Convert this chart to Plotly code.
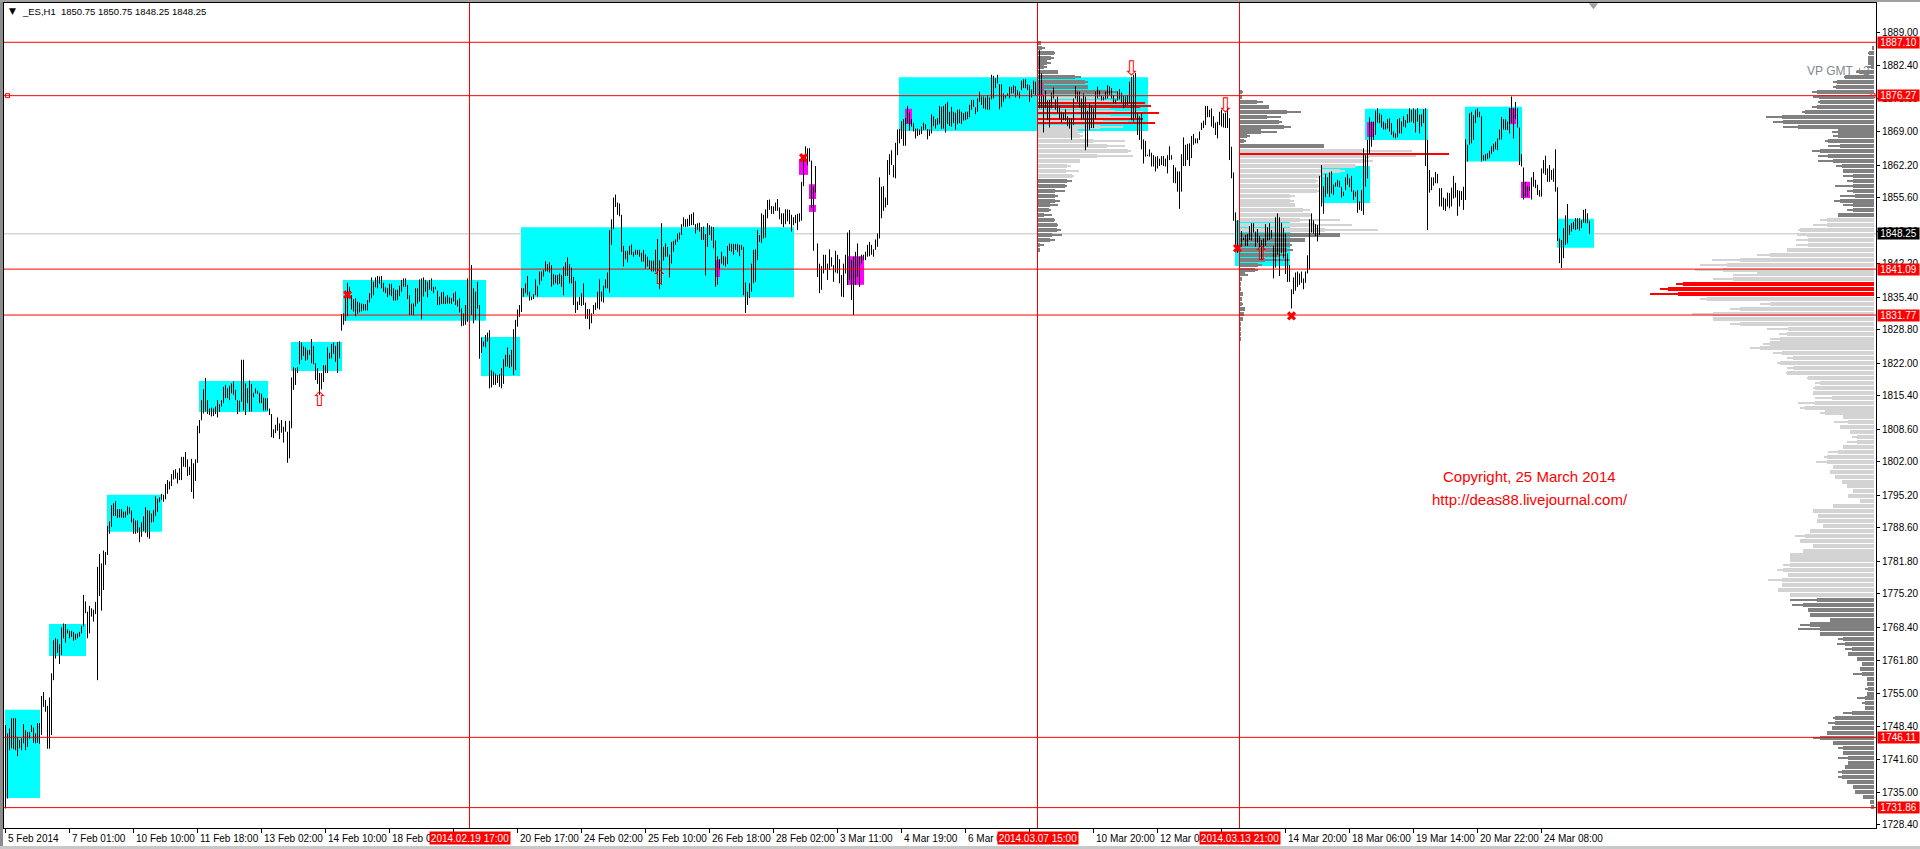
import plotly.graph_objects as go

# ---------- price bars: flat high,low pairs, one pair per hourly bar ----------
hl_a = [1748.6,1731.7, 1746.9,1733.7, 1747.9,1743.5, 1750,1743.9, 1750,1743.7, 1750,1743.5, 1746.2,1742.3, 1745.6,1743.9, 1745.9,1743.5, 1748.8,1744.9,
1747.6,1743.5, 1747.2,1744.2, 1747.2,1745.8, 1748.6,1747.2, 1748.1,1745, 1746.9,1744.9, 1749,1745, 1749,1744.8, 1754.5,1746.6, 1755.3,1752.3,
1753.7,1751.3, 1752.5,1743.8, 1754.2,1743.8, 1759.1,1746.6, 1765.8,1757.7, 1766.2,1762.1, 1766,1763.2, 1765,1761, 1768.4,1762.8, 1769.2,1766.2,
1769.1,1765.3, 1768,1767.2, 1767.7,1766.2, 1767.7,1766.5, 1767.5,1765.7, 1767.1,1765.9, 1767.2,1766.2, 1767.5,1766.5, 1768.7,1767.2, 1775,1768.6,
1773.7,1771.3, 1771.6,1766.2, 1772.8,1767.2, 1772.3,1770.6, 1772,1769.6, 1773.6,1771.1, 1780.7,1757.7, 1783.3,1774.8, 1781.4,1771.8, 1784,1776,
1783.7,1781.1, 1789,1783.1, 1789.9,1787.4, 1793.2,1788.8, 1793.6,1791, 1794,1791, 1792.4,1790.6, 1792.4,1790.7, 1792.4,1790.7, 1791.9,1790.6,
1791.9,1790.7, 1793,1791.2, 1792.8,1791.5, 1792.1,1789.7, 1790.5,1787.4, 1790.1,1787.4, 1790.1,1787.6, 1788.7,1785.7, 1789.7,1786.8, 1790.9,1787.9,
1792.8,1787.6, 1792.2,1786.7, 1792.1,1786.4, 1791.5,1789.7, 1792.2,1789.8, 1795,1791, 1794.5,1791.8, 1794.8,1793.8, 1795.5,1794.3, 1795.3,1793.9,
1797.5,1794.4, 1798.3,1795.5, 1798,1796.4, 1799.5,1797.1, 1800.3,1798.4, 1800.5,1798.6, 1799.8,1797.6, 1800.7,1798.3, 1803,1798.3, 1803,1801,
1804,1800.9, 1802.5,1799.1, 1801,1799.3, 1802.6,1795.9, 1801.7,1794.5, 1802.5,1798.1, 1809.3,1801.8, 1810.5,1807.8, 1814.5,1810.4, 1816.7,1811.8]
hl_b = [1819,1812.2, 1814.5,1811.7, 1812.8,1811.5, 1813,1811.2, 1812.8,1811.3, 1813.2,1811.7, 1814.5,1811, 1813.7,1812.1, 1814.5,1813.2, 1817.2,1813.9,
1817.6,1814.9, 1816.9,1814.9, 1817.4,1814.5, 1817.9,1815.9, 1818.3,1815.6, 1816.6,1814.5, 1814.5,1811.7, 1814.4,1812.2, 1822.7,1814.2, 1822.7,1812.4,
1817.9,1811.5, 1816.9,1813.9, 1818.5,1812.2, 1817.8,1812.2, 1816,1815.1, 1816.9,1815.9, 1816.4,1815.8, 1816,1813.9, 1815.8,1813.9, 1815,1812.4,
1814.9,1812.4, 1814.9,1812.4, 1812.8,1811.5, 1811.7,1807, 1808.6,1806.8, 1809.5,1807.8, 1811,1808.3, 1809.8,1806.6, 1810.5,1807.9, 1809.1,1805.9,
1810.3,1808.1, 1808.1,1801.8, 1810.3,1802.7, 1819.1,1808.8, 1821.2,1816.6, 1821,1817.6, 1821.2,1820, 1826.5,1821.8, 1826.2,1822.7, 1825.4,1823.5,
1825.2,1822.5, 1824.7,1822.7, 1824.7,1823.7, 1826.9,1822, 1825.5,1821.8, 1822,1818.6, 1821,1817.8, 1820,1815.6, 1820,1816.7, 1821.6,1818.2,
1821.6,1820, 1825.2,1820, 1824.1,1822.9, 1825.9,1823, 1826.2,1823.9, 1825.5,1822.3, 1826.3,1820, 1826.4,1823, 1832,1828.6, 1832.1,1829.8,
1835.5,1830.6, 1838.3,1831.5, 1837.5,1835.5, 1835.8,1832.9, 1835,1832.5, 1835.2,1831.5, 1834.5,1832, 1834.3,1832.3, 1834.1,1832.5, 1834,1832.7,
1834,1832.7, 1834.8,1832.7, 1836.2,1834.3, 1839.4,1835.2, 1838.5,1835.8, 1839.4,1837.4, 1839.7,1837.2, 1839.6,1838.1, 1839.7,1837.2, 1838.3,1836.5,
1837.4,1836.2, 1837.2,1835.4, 1838.1,1835.8, 1838.1,1835.6, 1837.2,1834.7, 1836.9,1834.7, 1836.9,1834.8, 1837.7,1835.6, 1838.9,1836.5, 1839.2,1837.5]
hl_c = [1839.2,1837.5, 1837.9,1835, 1835.8,1831.8, 1834.1,1831.8, 1834.1,1831.8, 1837.2,1833.5, 1837.2,1834.1, 1839,1834.5, 1839.2,1830.9, 1839.4,1835.5,
1838.9,1836.5, 1838.5,1835.4, 1838.9,1836.9, 1839.2,1836.7, 1837.5,1836.2, 1837.5,1837, 1836.7,1833.8, 1835.5,1833.8, 1836.4,1834, 1836.5,1834,
1835.5,1834, 1835.8,1834.1, 1835.4,1834.1, 1835.2,1834, 1836.2,1834.5, 1836.5,1833.8, 1834.8,1833.5, 1835.2,1832.3, 1833.1,1829.5, 1832.1,1829.6,
1833.8,1829.8, 1839.2,1830.4, 1838.9,1831.5, 1841.9,1831.8, 1837.2,1830.1, 1836.5,1830.8, 1838.5,1833.1, 1833.8,1822.9, 1827.2,1824.1, 1826.4,1825.4,
1827.7,1825.2, 1828.2,1826.4, 1828.7,1816.9, 1820.6,1817.1, 1820.3,1817.6, 1819.9,1817.6, 1819.6,1818, 1819.8,1817.2, 1821,1816.9, 1822.8,1817.8,
1823.7,1821.3, 1825.2,1821.3, 1823.7,1821, 1824.7,1821.3, 1828.9,1819.6, 1830.8,1820.6, 1832.9,1829.4, 1833.8,1831.4, 1837.2,1832.4, 1837.2,1835.5,
1838.2,1836.2, 1839.7,1835.8, 1836.5,1834.7, 1835.5,1834.8, 1836,1835, 1839,1835.8, 1837.7,1835.5, 1840.6,1837.9, 1840.6,1838.7, 1840.9,1839.6,
1842.7,1840.6, 1842.1,1840.6, 1842.5,1840.4, 1841.9,1837.5, 1840.1,1837.9, 1839.9,1838.2, 1839.9,1837.9, 1840.2,1838.1, 1839.9,1837.5, 1841.6,1835.8,
1842.5,1839.7, 1843.5,1839.7, 1842.1,1838.2, 1841.4,1838.2, 1839.5,1833.8, 1838.7,1832.2, 1834.5,1832.8, 1835.4,1833.8, 1836.2,1833.6, 1838.2,1833.8,
1834.3,1831, 1833,1831, 1833,1828.9, 1832.1,1830.1, 1833.8,1832, 1834.3,1832.8, 1836.5,1833.1, 1839,1832.9, 1836.5,1834.5, 1837.7,1834.3]
hl_d = [1839,1837.2, 1840.4,1837.2, 1849,1836.3, 1851.2,1846, 1855.6,1849.2, 1856.2,1853.7, 1854.6,1852.1, 1854.4,1851.8, 1852.1,1844.6, 1845.8,1841.6,
1844.8,1843.1, 1844.8,1842.5, 1845.8,1844, 1846.1,1844, 1844.6,1843.6, 1845,1844, 1845,1844, 1845,1843.6, 1844.4,1842.6, 1845,1842.6,
1844.1,1841.2, 1843.6,1841.6, 1842.9,1841.1, 1842.8,1840.6, 1842.8,1840.6, 1845,1840.6, 1847.2,1839.9, 1842.9,1837, 1850.4,1837.9, 1845.6,1842.8,
1846.3,1843.6, 1845.6,1843.6, 1844,1839.4, 1846.6,1842.2, 1846.8,1844.6, 1847.1,1846, 1848.3,1846.6, 1848.5,1847.1, 1850.2,1848, 1851.6,1849.7,
1851.2,1849.6, 1851.3,1849.7, 1852.1,1849.8, 1852.3,1850, 1852.6,1850, 1850.2,1848.3, 1850.4,1849, 1850.5,1848.7, 1849.6,1847, 1849.7,1847,
1848.2,1839.8, 1850.4,1845.6, 1850,1848, 1849.7,1846.9, 1849.6,1845.3, 1846.9,1837.5, 1843.7,1837.9, 1843.1,1840.9, 1844.6,1842.2, 1843.7,1841.9,
1843.6,1841.6, 1845.8,1842.1, 1846.3,1844.8, 1846.2,1844.6, 1846.2,1844, 1846.2,1845, 1846.2,1844.6, 1846,1843.7, 1846,1845, 1845.6,1835.8,
1838.4,1832.2, 1836.5,1833.8, 1838.2,1835.2, 1842.2,1836.5, 1845,1838.2, 1845.1,1838.5, 1849,1842.9, 1848,1846.6, 1852.4,1846.4, 1852.1,1847.3,
1853.2,1847.5, 1855.1,1851.4, 1855.2,1853.1, 1853.9,1852.3, 1853.8,1852.3, 1854.6,1852.9, 1855.3,1852.9, 1853.6,1851.2, 1852.4,1850.2, 1852.4,1849.6,
1853.2,1850.2, 1853.2,1850.8, 1853.1,1850.2, 1852.1,1848.7, 1851.6,1850, 1852.1,1850.4, 1852.3,1849, 1852.4,1850.7, 1858.8,1850.9, 1864.2,1857.9]
hl_e = [1866,1862.9, 1865.6,1862.2, 1865.6,1862.9, 1863.1,1853.6, 1857.8,1844.8, 1862,1856.6, 1846.3,1839.5, 1842.2,1836.2, 1841.7,1836.9, 1844,1840.2,
1844,1840.9, 1842.2,1838.9, 1845.1,1840.9, 1843.5,1841.6, 1841.9,1838.5, 1844.8,1840.4, 1844,1840.2, 1843.1,1838.2, 1839.9,1835.5, 1842.2,1835.4,
1844,1840.2, 1848.5,1837.9, 1849,1838.9, 1842.9,1834.8, 1843.6,1831.8, 1844.6,1837.9, 1846.3,1839.5, 1843.6,1837.5, 1844,1842.2, 1844,1842.9,
1844.6,1842.9, 1846,1843.6, 1846.6,1843.7, 1846,1844, 1845.1,1843.6, 1847.1,1845, 1848.3,1845.6, 1859.7,1847.3, 1857.8,1851.4, 1857.9,1852.9,
1855.6,1853.6, 1863.2,1854.1, 1864.4,1860.2, 1865.2,1862.2, 1862.2,1859.7, 1866.7,1859.5, 1869.4,1864.2, 1869.5,1866.6, 1871.1,1867.5, 1871.5,1866.1,
1871.7,1866.1, 1874.2,1870.7, 1873,1869.2, 1871.5,1870, 1870.7,1869, 1869.6,1867.6, 1869.6,1868.1, 1869.4,1868.3, 1870,1868.5, 1870.8,1869.3,
1870.5,1869.4, 1869.5,1867.4, 1869.4,1868.1, 1872.5,1868.6, 1872.1,1870.1, 1871.5,1869.6, 1871.7,1870.3, 1874.2,1870.5, 1874,1869.5, 1874.2,1869.6,
1874.6,1868.8, 1875,1870.5, 1873,1870.1, 1874,1870, 1873,1870.7, 1872.8,1869.4, 1873.4,1870.5, 1873.5,1870.7, 1873,1870.5, 1872.7,1871.2,
1873,1871.3, 1873,1871.5, 1874.4,1871.9, 1875.4,1873.4, 1875.4,1874, 1873.9,1872.5, 1875.7,1873, 1877.1,1875, 1876.1,1874.4, 1876.1,1873.7,
1875.9,1873.5, 1876.4,1873.4, 1875.9,1873.4, 1880.5,1875.5, 1880.3,1875.7, 1879.8,1877.8, 1880.5,1878.8, 1878.6,1873.5, 1878.6,1874, 1876.7,1875]
hl_f = [1876.4,1875.7, 1876.7,1876.2, 1878.1,1875.7, 1878,1876.7, 1878.4,1876.7, 1878.2,1875.9, 1877.4,1876.4, 1877.1,1875.7, 1879.3,1877.4, 1879.6,1877.8,
1879.6,1877.8, 1878.6,1877.4, 1878.4,1875, 1877.5,1875.9, 1879.3,1876.6, 1879.1,1876.4, 1879,1874, 1885.5,1873.7, 1880.8,1873.7, 1876.4,1868.8,
1877.3,1873.7, 1875.3,1871.3, 1875.4,1869.8, 1876.9,1873.7, 1877.9,1875.7, 1875.5,1873.4, 1876.1,1872.8, 1874.2,1871.5, 1873,1870.8, 1872.8,1871.3,
1873.5,1871.2, 1872.1,1870.1, 1871.7,1869.6, 1871.7,1867.3, 1875.7,1870.3, 1878.2,1875.7, 1877.1,1875, 1877.1,1873.9, 1875.7,1871.3, 1876.7,1871.5,
1876.1,1865.2, 1873.2,1865.9, 1874.7,1869.3, 1874.2,1869.7, 1873.7,1869.7, 1877.1,1871.5, 1878.1,1875.7, 1877.3,1876.1, 1876.2,1875.3, 1876.1,1875.3,
1877.1,1875.5, 1878.4,1875.7, 1878.2,1876.4, 1877.8,1875.7, 1876.4,1874.7, 1875.5,1874.6, 1877.1,1875.3, 1877.6,1875.5, 1876.9,1874.9, 1876.2,1873.7,
1876.1,1874, 1876.4,1874.4, 1879.1,1874.7, 1880.1,1871.3, 1880.5,1871, 1880.9,1871.7, 1872.7,1868.3, 1872.1,1867.3, 1872.7,1865.4, 1867.4,1862.5,
1867.1,1863.9, 1864.3,1864, 1865.4,1863.9, 1864.7,1861.9, 1864.2,1861.9, 1863.9,1860.9, 1864,1861.5, 1863.5,1862, 1864,1862.2, 1864,1862,
1863.5,1861.9, 1864.2,1860.5, 1866,1863.2, 1864.2,1863.3, 1862.2,1858.6, 1861.7,1858.5, 1860.9,1856.8, 1860.9,1853.3, 1864.4,1856.8, 1867.8,1862,
1866.3,1862, 1866.5,1863.2, 1866.6,1862, 1868.1,1863.6, 1868.5,1866.3, 1867.6,1866.6, 1867.6,1866.6, 1869,1867.3, 1870.8,1869.3, 1871.2,1869.7]
hl_g = [1874.2,1870.3, 1874.2,1871.9, 1873.4,1871.9, 1873.7,1870, 1872.1,1869.7, 1870.8,1868.3, 1871,1867.6, 1873,1870.3, 1873.4,1870, 1872.7,1869.8,
1872.8,1869.7, 1873.7,1869.7, 1871.7,1863.2, 1865.9,1859.5, 1860.7,1850.9, 1852.6,1845.3, 1851,1844.4, 1849.7,1845.6, 1848.8,1845.6, 1847.5,1847,
1848,1845.8, 1848.2,1845.8, 1849.8,1847, 1850.4,1846.9, 1850.4,1848.5, 1848.7,1845.6, 1849.2,1846.4, 1847.8,1845.3, 1847,1842.9, 1847.3,1845.3,
1850.2,1845.8, 1849.6,1846.9, 1850.4,1847, 1849,1847.3, 1845.8,1839.2, 1851.6,1841.4, 1852.4,1844, 1851.6,1839.7, 1850.5,1844.3, 1849.4,1843.3,
1848.3,1840.1, 1844.3,1838.5, 1841.9,1838.5, 1837,1833.1, 1839.4,1836, 1840.4,1836.7, 1840.6,1837.5, 1840.2,1837.9, 1840.6,1838.3, 1839.2,1837,
1840.6,1838.3, 1843.9,1840.2, 1851.2,1841, 1852.4,1848.5, 1851,1848.3, 1850.2,1847.8, 1850,1846.7, 1860,1848, 1862.2,1853.8, 1857.9,1852.3,
1860.4,1855.7, 1859.7,1856.4, 1860.7,1855.7, 1860.9,1856.4, 1858.2,1856.1, 1858.6,1857.8, 1859.2,1857.8, 1859,1857.7, 1857.8,1855.6, 1856.8,1855.9,
1859.7,1857.1, 1860.4,1858.2, 1859.5,1857.7, 1860,1856.8, 1857.1,1855.1, 1856.8,1855.8, 1857.1,1852.5, 1854.8,1853.1, 1857.1,1852.9, 1865.6,1852.1,
1864.2,1857.8, 1867.3,1859.5, 1871.9,1864.4, 1871,1865.9, 1871,1867.3, 1873.2,1868.3, 1873.7,1870.8, 1872.7,1870.7, 1872.4,1869.8, 1871,1869.4,
1870.7,1869.4, 1871.5,1869.6, 1871.7,1869, 1870.7,1868.3, 1869,1867.8, 1868.6,1867.6, 1871.5,1867.8, 1871.7,1868.6, 1871,1868.6, 1872.1,1870]
hl_h = [1871.3,1869.8, 1872.5,1870.7, 1873.7,1870.8, 1873.4,1871, 1873.7,1870.7, 1873.4,1868.8, 1873.7,1871, 1872.4,1868.6, 1872.5,1870, 1873.5,1870.7,
1873.7,1862, 1867.3,1849, 1861.2,1856.6, 1859.7,1857.1, 1859.7,1858, 1860.8,1858.5, 1860.4,1858.5, 1857.5,1853.8, 1857.5,1853.8, 1855.6,1853.1,
1855.4,1852.9, 1856.6,1853.8, 1856.5,1853.4, 1857.6,1853.8, 1860,1855.4, 1858.6,1855.6, 1857.1,1851.9, 1857,1853.8, 1856.9,1855.1, 1857.8,1853.1,
1867.4,1855.1, 1866.3,1862.9, 1872.7,1866.3, 1873,1866.6, 1872.3,1867.3, 1873.4,1870.7, 1873.7,1871.9, 1873,1871.9, 1872.1,1862.9, 1864.2,1863.1,
1864.4,1863.1, 1864.6,1863.4, 1865.1,1863.6, 1866,1864.4, 1866.5,1864.9, 1866.9,1865.4, 1867.6,1865.2, 1869.4,1867.3, 1871.9,1867.4, 1871.5,1869.4,
1871.5,1869.3, 1871,1869.3, 1873.7,1868.6, 1876.1,1870.7, 1873.7,1867.6, 1875,1871.5, 1873.7,1869.8, 1869.8,1862.2, 1864.4,1861.9, 1861.7,1855.2,
1858.8,1855.8, 1857.9,1855.8, 1857.8,1857, 1859.7,1855.2, 1860.8,1857.8, 1859.2,1857.5, 1858.2,1856.1, 1857.1,1855.8, 1861.5,1855.8, 1863.2,1860.5,
1864.1,1860.2, 1861.5,1858.8, 1862.2,1858.8, 1861.2,1859.2, 1861.5,1858.8, 1865.4,1856.8, 1857.7,1846.8, 1847.3,1842.3, 1847,1841.3, 1849.4,1843.3,
1852,1846, 1854.3,1846.3, 1850,1848, 1850.4,1848.7, 1850.7,1849.2, 1851.4,1849, 1851.4,1849.2, 1851.4,1848.9, 1851,1849.4, 1853.1,1850.5,
1853.3,1850.4, 1852.4,1850.4, 1850.9,1848.25]

# ---------- key levels ----------
level_prices = [1887.10, 1876.27, 1841.09, 1831.77, 1746.11, 1731.86]
last_price = 1848.25
session_bars = [232, 516, 617]
session_stamps = ["2014.02.19 17:00", "2014.03.07 15:00", "2014.03.13 21:00"]

# ---------- zones: first bar, last bar, top price, bottom price ----------
cyan_start = [0, 22, 51, 97, 143, 169, 238, 258, 447, 615, 658.5, 680, 730, 776]
cyan_end = [17, 40, 78, 131, 168, 240, 257, 394, 571, 642, 682, 711, 758, 794]
cyan_top = [1751.7, 1769.1, 1795.3, 1818.4, 1826.3, 1838.9, 1827.3, 1849.6, 1880, 1851, 1862, 1873.6, 1874, 1851.3]
cyan_bot = [1733.8, 1762.6, 1787.8, 1812.1, 1820.4, 1830.6, 1819.4, 1835.4, 1869.1, 1841.7, 1854.5, 1867.3, 1862.9, 1845.4]
mag_start = [397, 402, 402, 355, 421, 450, 681, 752, 758, 516]
mag_end = [401, 405, 405, 357, 429, 453, 684, 755, 762, 519]
mag_top = [1863.4, 1858.3, 1854.1, 1842.9, 1843.7, 1873.6, 1870.9, 1873.7, 1858.8, 1879]
mag_bot = [1860.2, 1855.3, 1852.7, 1839.5, 1837.9, 1870.5, 1867.9, 1870.5, 1855.5, 1876.4]

# ---------- signals ----------
up_bars = [157, 327, 628]
up_prices = [1814.3, 1839.1, 1843.9]
down_bars = [563, 610]
down_prices = [1881.5, 1874]
cross_bars = [171, 399, 616, 643]
cross_prices = [1835.9, 1863.7, 1845.3, 1831.6]
level_handle_bars = [1, 933.75]
level_handle_prices = [1876.27, 1876.27]
chart_shift_bar = [794]
chart_shift_price = [1894.6]

# ---------- whole-range volume profile ----------
vp_top = 1886
vp_body = [2,5,6,6,3,15,29,37,38,57,55,54,57,69,92,91,76,36,36,46,34,54,46,41,32,31,21,21,21,21,19,34,21,21,36,
47,47,74,67,66,66,87,104,134,147,151,117,141,191,206,196,167,104,134,161,161,134,86,87,94,104,114,92,81,94,81,87,66,54,59,61,42,59,69,49,31,
26,34,24,17,17,31,36,47,47,41,44,39,32,27,21,26,14,41,61,56,57,51,64,69,74,61,71,84,84,84,91,86,92,92,96,84,
57,71,66,64,44,64,54,54,31,29,22,26,17,12,14,12,7,7,6,7,9,9,9,22,39,39,42,47,54,41,31,31,26,26,29,32,32,27,21,19,11,4,3]
vp_spike = [2,6,6,6,7,18,30,41,41,62,61,56,62,72,108,101,91,42,41,49,46,62,56,56,38,31,31,27,39,27,34,40,31,27,36,
54,61,76,77,78,78,87,117,162,174,179,141,161,198,214,224,174,114,144,182,161,144,107,95,104,111,124,101,87,97,87,88,67,59,61,61,59,76,74,54,31,
40,34,24,22,27,31,46,50,58,41,44,39,32,27,21,26,14,41,61,56,57,51,64,79,74,61,71,84,84,91,97,86,106,92,96,84,
84,82,66,64,44,74,76,54,36,37,29,26,17,12,14,21,7,7,9,7,17,12,9,31,41,46,42,47,61,41,36,31,36,26,29,36,36,27,21,19,11,4,3]
vp_area_high = 1851
vp_area_low = 1775
vp_poc_high = 1838
vp_poc_low = 1836

# ---------- session profile from 2014.03.07 15:00 ----------
sp1_top = 1887
sp1_body = [3,4,16,13,9,6,20,37,47,50,70,60,72,72,77,72,65,62,40,42,55,69,90,59,42,29,28,34,29,27,17,17,17,12,11,6,16,19,19,14,12,2,2]
sp1_spike = [3,7,17,16,13,9,20,43,50,50,80,80,95,100,105,100,90,85,45,45,87,87,93,95,42,33,41,36,34,29,27,20,22,20,13,14,17,20,23,24,17,6,2]
sp1_area_high = 1876
sp1_area_low = 1860
sp1_poc_prices = [1874.7, 1874.2, 1873.9, 1872.7, 1871.5, 1870.8]
sp1_poc_volume = [107, 113, 102, 121, 105, 117]

# ---------- session profile from 2014.03.13 21:00 ----------
sp2_top = 1877
sp2_body = [2,2,17,29,47,27,39,44,21,7,4,84,122,130,125,115,100,80,76,78,77,50,50,55,63,70,60,75,85,100,65,50,47,40,25,18,15,5,2,1,1,3,2,2,5,4,3,1,1,1,1]
sp2_spike = [3,2,23,29,61,41,42,51,37,10,6,84,172,176,133,116,105,85,78,80,80,55,54,55,70,72,100,112,138,100,65,52,53,45,50,22,18,8,2,1,1,3,2,3,5,4,3,1,1,1,1]
sp2_area_high = 1865
sp2_area_low = 1849
sp2_poc_prices = [1864.4]
sp2_poc_volume = [209]

# ---------- axis labels ----------
y_tick_vals = [1889.00,1882.40,1875.60,1869.00,1862.20,1855.60,1848.80,1842.20,1835.40,1828.80,1822.00,1815.40,1808.60,1802.00,1795.20,1788.60,
               1781.80,1775.20,1768.40,1761.80,1755.00,1748.40,1741.60,1735.00,1728.40]
x_tick_step = 32
x_tick_labels = ["5 Feb 2014","7 Feb 01:00","10 Feb 10:00","11 Feb 18:00","13 Feb 02:00","14 Feb 10:00","18 Feb 01:00","",
                 "20 Feb 17:00","24 Feb 02:00","25 Feb 10:00","26 Feb 18:00","28 Feb 02:00","3 Mar 11:00","4 Mar 19:00","6 Mar 03:00",
                 "","10 Mar 20:00","12 Mar 04:00","","14 Mar 20:00","18 Mar 06:00","19 Mar 14:00","20 Mar 22:00","24 Mar 08:00"]
header = "_ES,H1  1850.75 1850.75 1848.25 1848.25"

# ---------- styles ----------
RED = "#ff0000"; DARK = "#808080"; LIGHT = "#d3d3d3"; CYAN = "#00ffff"; MAG = "#ff00ff"
UI = "Liberation Sans, sans-serif"
W, H = 1920, 849
L, R, T, B = 4, 1876, 3, 828

hl = hl_a + hl_b + hl_c + hl_d + hl_e + hl_f + hl_g + hl_h
highs, lows = hl[0::2], hl[1::2]

fig = go.Figure()

def profile(top, body, spike, hi, lo, base=None, poc=None):
    prices = [top - i for i in range(len(body))]
    def col(p):
        if poc and poc[1] <= p <= poc[0]:
            return RED
        return LIGHT if lo <= p <= hi else DARK
    colors = [col(p) for p in prices]
    for vals, w in ((spike, 0.22), (body, 0.82)):
        if base is None:
            fig.add_trace(go.Bar(y=prices, x=vals, orientation="h", width=w, marker=dict(color=colors, line_width=0),
                                 xaxis="x2", yaxis="y", hoverinfo="skip", showlegend=False))
        else:
            fig.add_trace(go.Bar(y=prices, x=[v / 2 for v in vals], base=base, orientation="h", width=w,
                                 marker=dict(color=colors, line_width=0), hoverinfo="skip", showlegend=False))

profile(vp_top, vp_body, vp_spike, vp_area_high, vp_area_low, poc=(vp_poc_high, vp_poc_low))
profile(sp1_top, sp1_body, sp1_spike, sp1_area_high, sp1_area_low, base=session_bars[1])
profile(sp2_top, sp2_body, sp2_spike, sp2_area_high, sp2_area_low, base=session_bars[2])

# session point-of-control rows
for start, prices, vols in ((session_bars[1], sp1_poc_prices, sp1_poc_volume), (session_bars[2], sp2_poc_prices, sp2_poc_volume)):
    fig.add_trace(go.Bar(y=prices, x=[v / 2 for v in vols], base=start, orientation="h", width=0.22,
                         marker=dict(color=RED, line_width=0), hoverinfo="skip", showlegend=False))

# price bars
bx, by = [], []
for k, (h, l) in enumerate(zip(highs, lows)):
    bx += [k, k, None]
    by += [l, h, None]
fig.add_trace(go.Scatter(x=bx, y=by, mode="lines", line=dict(color="black", width=1), hoverinfo="skip", showlegend=False, connectgaps=False))

# signals
fig.add_trace(go.Scatter(x=up_bars, y=up_prices, mode="text", text=["⇧"] * len(up_bars),
                         textfont=dict(family="DejaVu Sans", size=20, color=RED), hoverinfo="skip", showlegend=False))
fig.add_trace(go.Scatter(x=down_bars, y=down_prices, mode="text", text=["⇩"] * len(down_bars),
                         textfont=dict(family="DejaVu Sans", size=20, color=RED), hoverinfo="skip", showlegend=False))
fig.add_trace(go.Scatter(x=cross_bars, y=cross_prices, mode="markers",
                         marker=dict(symbol="x", size=8, color=RED, line_width=0), hoverinfo="skip", showlegend=False))
fig.add_trace(go.Scatter(x=level_handle_bars, y=level_handle_prices, mode="markers",
                         marker=dict(symbol="square", size=4, color="white", line=dict(color=RED, width=1)), hoverinfo="skip", showlegend=False))
fig.add_trace(go.Scatter(x=chart_shift_bar, y=chart_shift_price, mode="markers",
                         marker=dict(symbol="triangle-down", size=8, color="#a0a0a0", line_width=0), hoverinfo="skip", showlegend=False))

shapes = []
for x0, x1, y1, y0 in zip(cyan_start, cyan_end, cyan_top, cyan_bot):
    shapes.append(dict(type="rect", xref="x", yref="y", x0=x0 - 0.25, x1=x1 + 0.25, y0=y0, y1=y1, fillcolor=CYAN, line_width=0, layer="below"))
for x0, x1, y1, y0 in zip(mag_start, mag_end, mag_top, mag_bot):
    shapes.append(dict(type="rect", xref="x", yref="y", x0=x0 - 0.25, x1=x1 + 0.25, y0=y0, y1=y1, fillcolor=MAG, line_width=0, layer="below"))
shapes.append(dict(type="line", xref="paper", yref="y", x0=0, x1=1, y0=last_price, y1=last_price, line=dict(color="#c0c0c0", width=1), layer="below"))
for p in level_prices:
    shapes.append(dict(type="line", xref="paper", yref="y", x0=0, x1=1, y0=p, y1=p, line=dict(color=RED, width=1)))
for k in session_bars:
    shapes.append(dict(type="line", xref="x", yref="paper", x0=k, x1=k, y0=0, y1=1, line=dict(color=RED, width=1)))
# window chrome around the chart
pw, ph = R - L, B - T
shapes += [
    dict(type="rect", xref="paper", yref="paper", x0=-L / pw, x1=-1 / pw, y0=-(H - B) / ph, y1=1 + T / ph, fillcolor="#8c8c8c", line_width=0),
    dict(type="rect", xref="paper", yref="paper", x0=-L / pw, x1=(W - L) / pw, y0=1 + 1 / ph, y1=1 + T / ph, fillcolor="#a0a0a0", line_width=0),
    dict(type="rect", xref="paper", yref="paper", x0=-L / pw, x1=(W - L) / pw, y0=-(H - B) / ph, y1=-(846 - B) / ph, fillcolor="#c8c8c8", line_width=0),
]

ann = []
ann.append(dict(xref="paper", yref="paper", x=(20 - L) / pw, y=1 - 8.7 / ph, xanchor="left", yanchor="middle", text=header.replace("  ", "&nbsp;&nbsp;"),
                showarrow=False, font=dict(family=UI, size=9.5, color="black")))
ann.append(dict(xref="paper", yref="paper", x=(12 - L) / pw, y=1 - 8.5 / ph, xanchor="center", yanchor="middle", text="▼",
                showarrow=False, font=dict(family="DejaVu Sans", size=9, color="black")))
ann.append(dict(xref="x", yref="y", x=(1838 - 5.5) / 2, y=1881.2, xanchor="center", yanchor="middle", text="VP GMT +2",
                showarrow=False, font=dict(family="Liberation Sans", size=12, color="#808890")))
ann.append(dict(xref="x", yref="y", x=(1529 - 5.5) / 2, y=1799.1, xanchor="center", yanchor="middle", text="Copyright, 25 March 2014",
                showarrow=False, font=dict(family="Liberation Sans", size=15, color=RED)))
ann.append(dict(xref="x", yref="y", x=(1530 - 5.5) / 2, y=1794.3, xanchor="center", yanchor="middle", text="http://deas88.livejournal.com/",
                showarrow=False, font=dict(family="Liberation Sans", size=15, color=RED)))

x_ticks = [i * x_tick_step for i in range(len(x_tick_labels))]
for k, t in zip(x_ticks, x_tick_labels):
    if t:
        ann.append(dict(xref="x", yref="paper", x=k, y=0, yshift=-3, xanchor="left", yanchor="top", text=t, showarrow=False,
                        font=dict(family=UI, size=10, color="black")))
for k, t in zip(session_bars, session_stamps):
    ann.append(dict(xref="x", yref="paper", x=k, y=0, yshift=-3, xanchor="center", yanchor="top", text=t, showarrow=False,
                    bgcolor=RED, width=80, height=12, borderpad=0, font=dict(family=UI, size=10, color="white")))
tag_x = 1 + 1 / pw
for p in level_prices:
    ann.append(dict(xref="paper", yref="y", x=tag_x, y=p, xanchor="left", yanchor="middle", text=f"{p:.2f}", showarrow=False,
                    bgcolor=RED, width=41, height=11, borderpad=0, font=dict(family=UI, size=10, color="white")))
ann.append(dict(xref="paper", yref="y", x=tag_x, y=last_price, xanchor="left", yanchor="middle", text=f"{last_price:.2f}", showarrow=False,
                bgcolor="black", width=41, height=11, borderpad=0, font=dict(family=UI, size=10, color="white")))

# fixed scale: one bar every two screen pixels, prices on the right
kmin, kmax = (L - 5.5) / 2, (R - 5.5) / 2
pmax = 1889 + (32.9 - T) / 4.93
pmin = 1889 - (B - 32.9) / 4.93
fig.update_layout(
    width=W, height=H, margin=dict(l=L, r=W - R, t=T, b=H - B, autoexpand=False),
    paper_bgcolor="white", plot_bgcolor="white", barmode="overlay", showlegend=False, bargap=0,
    xaxis=dict(range=[kmin, kmax], automargin=False, showgrid=False, zeroline=False, showline=True, linecolor="black", linewidth=1, mirror=True,
               ticks="outside", ticklen=4, tickcolor="black", tickwidth=1, tickmode="array", tickvals=x_ticks, showticklabels=False),
    xaxis2=dict(range=[R - L - 2, -2], automargin=False, overlaying="x", side="top", visible=False),
    yaxis=dict(range=[pmin, pmax], automargin=False, side="right", showgrid=False, zeroline=False, showline=True, linecolor="black", linewidth=1, mirror=True,
               ticks="outside", ticklen=3, tickcolor="black", tickwidth=1, tickmode="array", tickvals=y_tick_vals,
               ticktext=[f"{v:.2f}" for v in y_tick_vals], tickfont=dict(family=UI, size=10, color="black")),
    shapes=shapes, annotations=ann,
)
fig.write_html("out.html", config={"displayModeBar": False},
               post_script="document.body.style.margin='0';document.documentElement.style.overflow='hidden';")
